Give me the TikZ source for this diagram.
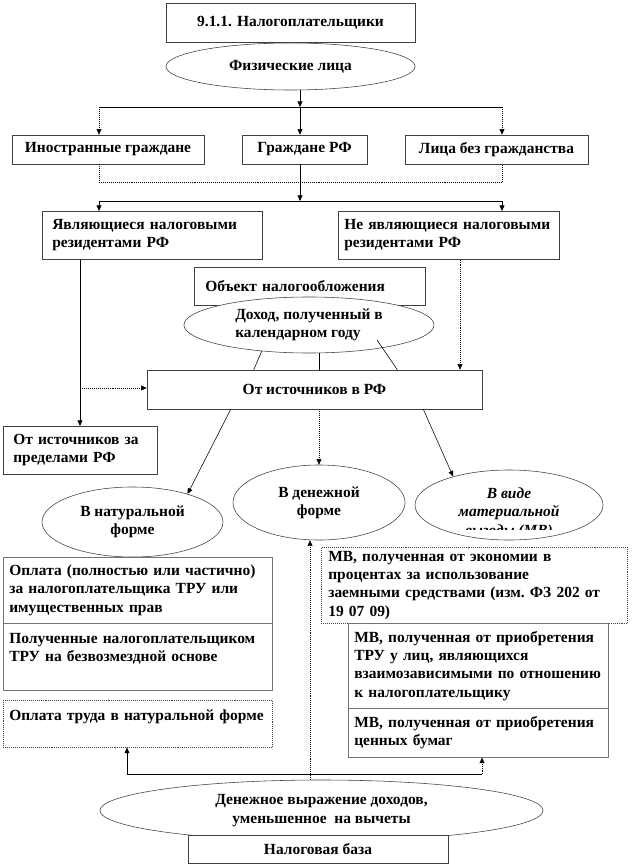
\documentclass[tikz,border=0pt]{standalone}
\usepackage{fontspec}
\setmainfont{Liberation Serif}
\usetikzlibrary{shapes.geometric,arrows.meta,calc}

\tikzset{
  box/.style={draw=black!75, thin, fill=white, inner sep=0pt, font=\fontsize{11}{13}\selectfont\bfseries},
  tbox/.style={box, anchor=north west, align=left, inner xsep=0.25cm},
  ell/.style={draw=black!75, thin, fill=white, ellipse, inner sep=0pt, align=center, font=\fontsize{11}{13}\selectfont\bfseries},
  arr/.style={-{Triangle[length=4pt,width=3.5pt]}},
  dotline/.style={densely dotted}
}

\begin{document}
\begin{tikzpicture}[x=0.025cm, y=-0.025cm]
\useasboundingbox (0,0) rectangle (631,866);

% taxpayers
\node[box, minimum width=6.225cm, minimum height=0.975cm] (title) at (290.5,22.5) {9.1.1. Налогоплательщики};
\node[ell, minimum width=6.225cm, minimum height=1.175cm] (fiz) at (290.5,66.5) {Физические лица};

\node[box, minimum width=4.8cm, minimum height=0.725cm] (inostr) at (108,149.5) {Иностранные граждане};
\node[box, minimum width=3.125cm, minimum height=0.725cm] (grazh) at (304.5,149.5) {Граждане РФ};
\node[box, minimum width=4.575cm, minimum height=0.725cm] (lica) at (496.5,149.5) {Лица без гражданства};

\node[tbox, text width=5.0cm, minimum height=1.2cm] (yavl) at (42,211) {Являющиеся налоговыми\\резидентами РФ};
\node[tbox, inner xsep=0.15cm, text width=5.225cm, minimum height=1.2cm] (neyavl) at (338,211) {Не являющиеся налоговыми\\резидентами РФ};

% object of taxation
\node[tbox, inner xsep=0.275cm, text width=5.225cm, minimum height=0.95cm] (obj) at (194,267) {Объект налогообложения};
\node[ell, align=left, minimum width=6.25cm, minimum height=1.4cm] (dohod) at (309,325) {Доход, полученный в\\календарном году};

\node[box, minimum width=8.375cm, minimum height=0.975cm] (otrf) at (314.5,389.5) {От источников в РФ};
\node[tbox, text width=3.35cm, minimum height=1.2cm] (otza) at (3,426) {От источников за\\пределами РФ};

% forms of income
\node[ell, minimum width=4.525cm, minimum height=1.75cm] (natur) at (132.5,522) {В натуральной\\форме};
\node[ell, minimum width=4.3cm, minimum height=1.875cm] (denezh) at (319,502.5) {В денежной\\форме};
\node[ell, minimum width=4.7cm, minimum height=1.75cm] (vide) at (509,505) {};
\begin{scope}
  \clip (420,480) rectangle (600,529);
  \node[font=\fontsize{11}{13}\selectfont\bfseries\itshape, align=center] (videtext) at (509,513) {В виде\\материальной\\выгоды (МВ)};
\end{scope}

\node[tbox, dotline, inner xsep=0.175cm, text width=7.3cm, minimum height=1.9cm] (mb1) at (321,547) {МВ, полученная от экономии в\\процентах за использование\\заемными средствами (изм.\ ФЗ 202 от\\19 07 09)};
\node[tbox, draw=black!55, inner xsep=0.15cm, text width=6.2cm, minimum height=2.125cm] (mb2) at (348,623) {МВ, полученная от приобретения\\ТРУ у лиц, являющихся\\взаимозависимыми по отношению\\к налогоплательщику};
\node[tbox, draw=black!55, inner xsep=0.15cm, text width=6.2cm, minimum height=1.225cm] (mb3) at (348,708) {МВ, полученная от приобретения\\ценных бумаг};

\node[tbox, draw=black!55, inner xsep=0.15cm, text width=6.425cm, minimum height=1.65cm] (opl1) at (3,557) {Оплата (полностью или частично)\\за налогоплательщика ТРУ или\\имущественных прав};
\node[tbox, draw=black!55, inner xsep=0.15cm, text width=6.425cm, minimum height=1.675cm] (opl2) at (3,623) {Полученные налогоплательщиком\\ТРУ на безвозмездной основе\\\mbox{}};
\node[tbox, dotline, inner xsep=0.15cm, text width=6.425cm, minimum height=1.175cm] (opl3) at (3,700) {Оплата труда в натуральной форме\\\mbox{}};

% tax base
\node[ell, minimum width=11.075cm, minimum height=1.525cm] (base) at (321.5,810.5) {Денежное выражение доходов,\\уменьшенное~ на вычеты};
\node[box, minimum width=6.5cm, minimum height=0.7cm] (nbase) at (318,849) {Налоговая база};

% connectors, top
\coordinate (j1) at (300,107);
\coordinate (jl) at (99,107);
\coordinate (jr) at (502,107);
\draw[arr] (fiz.south -| j1) -- (j1);
\draw[arr] (j1) -- (grazh.north -| j1);
\draw (jl) -- (jr);
\draw[arr, dotline] (jl) -- (inostr.north -| jl);
\draw[arr, dotline] (jr) -- (lica.north -| jr);

\coordinate (kl) at (99,182);
\coordinate (kr) at (502,182);
\draw[dotline] (inostr.south -| kl) -- (kl) -- (kr) -- (lica.south -| kr);

\coordinate (j2) at (300,201);
\coordinate (ml) at (99,201);
\coordinate (mr) at (502,201);
\draw[arr] (grazh.south -| j2) -- (j2);
\draw (ml) -- (mr);
\draw[arr] (ml) -- (yavl.north -| ml);
\draw[arr] (mr) -- (neyavl.north -| mr);

% residents / non-residents
\coordinate (ya) at (80,388);
\coordinate (na) at (460,300);
\draw[arr] (yavl.south -| ya) -- (otza.north -| ya);
\draw[arr, dotline] (ya) -- (otrf.west |- ya);
\draw[arr, dotline] (neyavl.south -| na) -- (otrf.north -| na);

% income to sources
\draw (dohod.209.5) -- ([xshift=2.675cm]otrf.north west);
\draw (dohod.south -| denezh.north) -- (otrf.north -| denezh.north);
\draw ($(dohod.center)+(68,15)$) -- ([xshift=-2.125cm]otrf.north east);

% sources to forms
\draw[arr] ([xshift=2.1cm]otrf.south west) -- (natur.27);
\draw[arr, dotline] (otrf.south -| denezh.north) -- (denezh.north);
\draw[arr] ([xshift=-1.475cm]otrf.south east) -- (vide.153);

% tax base
\coordinate (bl) at (127,774);
\coordinate (br) at (482,774);
\coordinate (bv) at (310,700);
\draw (bl) -- (br);
\draw[arr] (bl) -- (opl3.south -| bl);
\draw[arr, dotline] (br) -- (mb3.south -| br);
\draw[arr, dotline] (base.north -| bv) -- (denezh.south -| bv);
\end{tikzpicture}
\end{document}
